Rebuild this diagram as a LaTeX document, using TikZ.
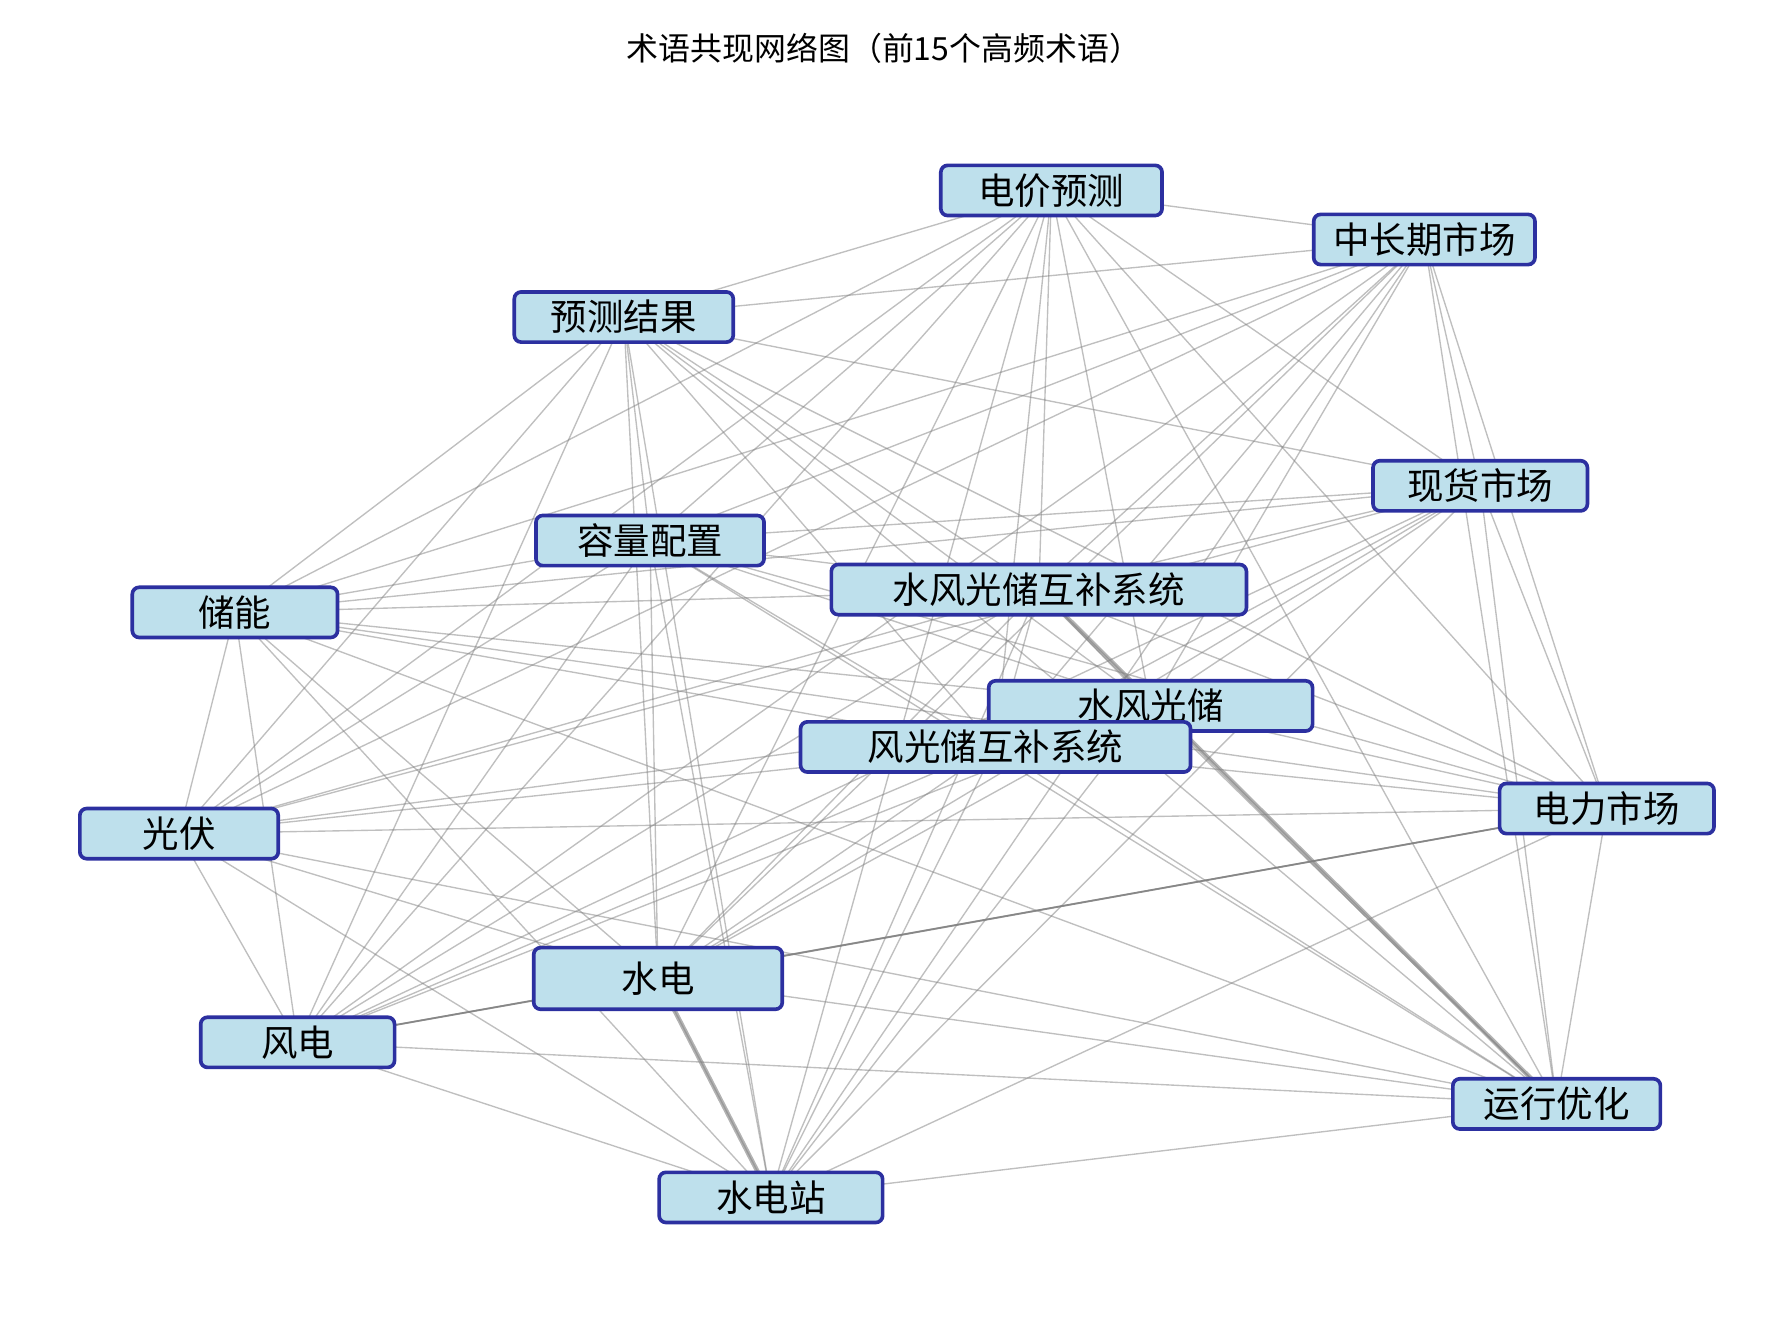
\documentclass[tikz,border=0pt]{standalone}
\usepackage{fontspec}
\newfontfamily\cjk{Noto Sans CJK SC}
\usetikzlibrary{backgrounds}
\definecolor{nodefill}{RGB}{190,224,236}
\definecolor{nodeedge}{RGB}{44,48,160}
\begin{document}
\begin{tikzpicture}[x=0.5pt,y=-0.5pt,
  term/.style={draw=nodeedge,fill=nodefill,line width=1.6pt,rounded corners=3pt,font=\cjk\fontsize{16}{18}\selectfont,inner sep=0pt,minimum height=22pt},
  edge/.style={draw=gray,opacity=0.5,line width=0.6pt}]
\useasboundingbox (0,0) rectangle (1560,1163);
\node[font=\cjk\fontsize{14}{16}\selectfont] (title) at (775,42) {术语共现网络图（前15个高频术语）};
\node[term,minimum width=97pt] (n1) at (922,167) {电价预测};
\node[term,minimum width=97pt] (n2) at (1249,210) {中长期市场};
\node[term,minimum width=96pt] (n3) at (547,278) {预测结果};
\node[term,minimum width=94pt] (n4) at (1298,426) {现货市场};
\node[term,minimum width=100pt] (n5) at (570,474) {容量配置};
\node[term,minimum width=90pt] (n7) at (206,537) {储能};
\node[term,minimum width=142pt] (n8) at (1009,619) {水风光储};
\node[term,minimum width=182pt] (n6) at (911,517) {水风光储互补系统};
\node[term,minimum width=171pt] (n9) at (873,655) {风光储互补系统};
\node[term,minimum width=94pt] (n10) at (1409,709) {电力市场};
\node[term,minimum width=87pt] (n11) at (157,731) {光伏};
\node[term,minimum width=109pt,minimum height=27pt] (n12) at (577,858) {水电};
\node[term,minimum width=85pt] (n13) at (261,914) {风电};
\node[term,minimum width=91pt] (n14) at (1365,968) {运行优化};
\node[term,minimum width=98pt] (n15) at (676,1050) {水电站};
\begin{scope}[on background layer]
\foreach \i in {1,...,14}{
  \pgfmathtruncatemacro{\s}{\i+1}
  \foreach \j in {\s,...,15}{
    \draw[edge] (n\i.center) -- (n\j.center);
  }
}
\draw[draw=gray,opacity=0.8,line width=0.8pt] (n12.center) -- (n10.center);
\draw[draw=gray,opacity=0.8,line width=0.8pt] (n12.center) -- (n13.center);
\draw[draw=gray,opacity=0.6,line width=2pt] (n12.center) -- (n15.center);
\draw[draw=gray,opacity=0.6,line width=2pt] (n6.center) -- (n14.center);
\end{scope}
\end{tikzpicture}
\end{document}
